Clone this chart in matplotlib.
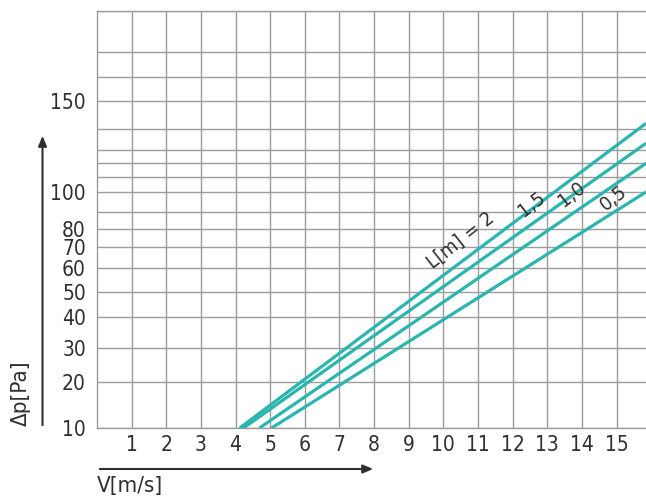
import numpy as np
import matplotlib
matplotlib.use("Agg")
import matplotlib.pyplot as plt

# y axis of the nomogram is neither linear nor log: value -> height of gridline (px above bottom)
grid_vals = [10, 20, 30, 40, 50, 60, 70, 80, 90, 100, 110, 120, 130, 140, 150, 200, 250, 300]
grid_h = [0, 46, 80, 111, 136, 160, 181, 199, 216, 236, 251, 265, 278, 299, 327, 351, 376, 417]
y_labels = [10, 20, 30, 40, 50, 60, 70, 80, 100, 150]
x_ticks = list(range(1, 16))

# lines: start velocity at 10 Pa, pressure at right edge (v = 15.85)
lengths = ["2", "1,5", "1,0", "0,5"]
v_start = [4.12, 4.23, 4.69, 5.04]
v_end = 15.85
dp_end = [142.0, 133.2, 119.8, 100.0]

# label positions (v, dp)
lab_text = ["L[m] = 2", "1,5", "1,0", "0,5"]
lab_v = [10.5, 12.55, 13.7, 14.9]
lab_dp = [74.0, 94.0, 99.0, 97.0]

teal = "#2ab5ad"
gray = "#9c9c9c"
txt = "#2f2f2f"
fam = ["DejaVu Sans"]
stretch = "condensed"

def fwd(v):
    return np.interp(v, grid_vals, grid_h)

def inv(h):
    return np.interp(h, grid_h, grid_vals)

fig = plt.figure(figsize=(6.46, 4.97), dpi=100)
ax = fig.add_axes([97/646, 69/497, 549/646, 417/497])
ax.set_yscale("function", functions=(fwd, inv))
ax.set_xlim(0, v_end)
ax.set_ylim(10, 300)

for i in range(len(lengths)):
    ax.plot([v_start[i], v_end], [10, dp_end[i]], color=teal, lw=2.3,
            solid_capstyle="butt", clip_on=True, zorder=3)

for i in range(len(lab_text)):
    ax.text(lab_v[i], lab_dp[i], lab_text[i], rotation=38, ha="center", va="center",
            fontsize=14.5, color=txt, family=fam, fontstretch=stretch,
            rotation_mode="anchor", zorder=4)

ax.set_yticks(y_labels)
ax.set_yticks([v for v in grid_vals if v not in y_labels], minor=True)
ax.set_yticklabels([str(v) for v in y_labels], fontsize=15, color=txt, family=fam,
                   fontstretch=stretch)
ax.set_xticks(x_ticks)
ax.set_xticklabels([str(v) for v in x_ticks], fontsize=15, color=txt, family=fam,
                   fontstretch=stretch)
ax.tick_params(axis="both", which="both", length=0)
ax.tick_params(axis="y", pad=8)
ax.tick_params(axis="x", pad=5)
ax.grid(True, which="both", color=gray, lw=1.0)
for s in ax.spines.values():
    s.set_color(gray)
    s.set_linewidth(1.0)
ax.spines["right"].set_visible(False)

# axis arrows and names
fig.add_artist(matplotlib.patches.FancyArrowPatch((42.5/646, 1 - 428/497), (42.5/646, 1 - 133/497),
               transform=fig.transFigure, arrowstyle="-|>,head_length=6,head_width=2.5",
               color=txt, lw=1.5, mutation_scale=1))
fig.add_artist(matplotlib.patches.FancyArrowPatch((97/646, 1 - 469/497), (376/646, 1 - 469/497),
               transform=fig.transFigure, arrowstyle="-|>,head_length=6,head_width=2.5",
               color=txt, lw=1.5, mutation_scale=1))
fig.text(21/646, 1 - 393/497, "Δp[Pa]", rotation=90, ha="center", va="center",
         fontsize=16, color=txt, family=fam, fontstretch=stretch)
fig.text(97/646, 1 - 486/497, "V[m/s]", ha="left", va="center",
         fontsize=16, color=txt, family=fam, fontstretch=stretch)

fig.savefig("out.png", dpi=100)
